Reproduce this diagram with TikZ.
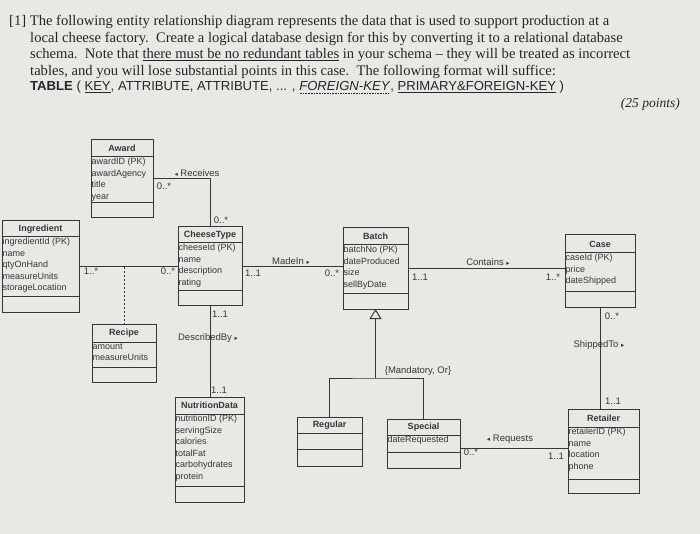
\documentclass[tikz,border=0pt]{standalone}
\usepackage{fontspec}
\setmainfont{Liberation Serif}
\setsansfont{Liberation Sans}
\newfontfamily\symfont{DejaVu Sans}
\usetikzlibrary{arrows.meta,positioning}

\definecolor{paper}{RGB}{232,232,229}
\definecolor{ink}{RGB}{55,55,55}

\newcommand{\roleleft}{{\symfont\fontsize{6.5}{6.5}\selectfont ◂}}
\newcommand{\roleright}{{\symfont\fontsize{6.5}{6.5}\selectfont ▸}}
\newcommand{\dotunder}[1]{\setbox0=\hbox{#1}\leavevmode\rlap{\lower2.5pt\hbox to\wd0{\leaders\hbox to 1.6pt{\hss\vrule width 0.7pt height 0.7pt\hss}\hfill}}\box0}

% class box: name, left, top, width, title h, attr h, bottom h, title, attributes
\newcommand{\umlclass}[9]{%
  \pgfmathsetmacro{\classh}{#5+#6+#7}%
  \pgfmathsetmacro{\classy}{#5+#6}%
  \node[classbox, minimum width=#4pt, minimum height=\classh pt, anchor=north west] (#1) at (#2,#3) {};
  \draw[ink, line width=1pt] ([yshift=-#5pt]#1.north west) -- ([yshift=-#5pt]#1.north east);
  \draw[ink, line width=1pt] ([yshift=-\classy pt]#1.north west) -- ([yshift=-\classy pt]#1.north east);
  \node[classtitle, minimum height=#5pt, anchor=north] (#1-title) at (#1.north) {#8};
  \node[classattr, anchor=north west] (#1-attrs) at ([yshift=-#5pt]#1.north west) {#9};
}

\begin{document}
\begin{tikzpicture}[x=1pt, y=-1pt,
    classbox/.style={draw=ink, line width=1pt, rectangle, inner sep=0pt, outer sep=0pt},
    classtitle/.style={inner sep=0pt, text=ink, font=\sffamily\bfseries\fontsize{9}{10}\selectfont},
    classattr/.style={inner xsep=0.5pt, inner ysep=1pt, align=left, text=ink, font=\sffamily\fontsize{9}{11.5}\selectfont},
    link/.style={draw=ink, line width=1pt},
    assoc/.style={draw=ink, line width=1pt, dash pattern=on 2pt off 2pt},
    mult/.style={inner sep=0pt, text=ink, font=\sffamily\fontsize{9.5}{10}\selectfont},
    role/.style={inner sep=0pt, text=ink, font=\sffamily\fontsize{9.5}{10}\selectfont},
    question/.style={anchor=west, inner sep=0pt, text=black!85, font=\fontsize{14.6}{16}\selectfont}]

    % Page
    \fill[paper] (0,0) rectangle (700,534);
    \useasboundingbox (0,0) rectangle (700,534);

    % Question text
    \node[question] (q1) at (9,22) {[1] The following entity relationship diagram represents the data that is used to support production at a};
    \node[question] (q2) at (30,38.5) {local cheese factory.\ \ Create a logical database design for this by converting it to a relational database};
    \node[question] (q3) at (30,55) {schema.\ \ Note that \underline{there must be no redundant tables} in your schema -- they will be treated as incorrect};
    \node[question] (q4) at (30,71.5) {tables, and you will lose substantial points in this case.\ \ The following format will suffice:};
    \node[question, font=\sffamily\fontsize{13.1}{15}\selectfont] (q5) at (30,87.5) {\textbf{TABLE} ( \underline{KEY}, ATTRIBUTE, ATTRIBUTE, ... , \dotunder{\textit{FOREIGN-KEY}} , \underline{PRIMARY\&FOREIGN-KEY} )};
    \node[question, anchor=east, font=\itshape\fontsize{13.5}{15}\selectfont] (points) at (680,104) {(25 points)};

    % Classes
    \umlclass{award}{91}{140}{62}{17}{46}{15}{Award}{awardID (PK)\\awardAgency\\title\\year}
    \umlclass{ingr}{2}{221}{77}{16}{59}{16}{Ingredient}{ingredientId (PK)\\name\\qtyOnHand\\measureUnits\\storageLocation}
    \umlclass{cheese}{178}{227}{64}{16}{47}{15}{CheeseType}{cheeseId (PK)\\name\\description\\rating}
    \umlclass{batch}{343}{228}{65}{17}{48}{16}{Batch}{batchNo (PK)\\dateProduced\\size\\sellByDate}
    \umlclass{case}{565}{235}{70}{18}{38}{16}{Case}{caseId (PK)\\price\\dateShipped}
    \umlclass{recipe}{92}{324}{64}{18}{25}{15}{Recipe}{amount\\measureUnits}
    \umlclass{nutri}{175}{397}{69}{17}{72}{16}{NutritionData}{nutritionID (PK)\\servingSize\\calories\\totalFat\\carbohydrates\\protein}
    \umlclass{regular}{297}{417}{65}{16}{16}{17}{Regular}{}
    \umlclass{special}{387}{419}{73}{16}{17}{16}{Special}{dateRequested}
    \umlclass{retailer}{568}{409}{71}{18}{52}{14}{Retailer}{retailerID (PK)\\name\\location\\phone}

    % Associations
    \draw[link] (award.east) -| (cheese.north);
    \draw[link] (ingr.east) -- (ingr.east -| cheese.west);
    \coordinate (recipelink) at (ingr.east -| recipe.north);
    \draw[assoc] (recipelink) -- (recipe.north);
    \draw[link] (cheese.east) -- (cheese.east -| batch.west);
    \draw[link] (batch.east) -- (batch.east -| case.west);
    \draw[link] (cheese.south) -- (cheese.south |- nutri.north);
    \draw[link] (case.south) -- (case.south |- retailer.north);
    \draw[link] ([yshift=-4.5pt]special.east) -- ([yshift=-4.5pt]special.east -| retailer.west);

    % Generalization
    \coordinate (gen) at (batch.south |- 0,378);
    \draw[link] (regular.north) |- (gen) -| (special.north);
    \draw[link, -{Triangle[open, length=10pt, width=12pt]}] (gen) -- (batch.south);

    % Role names
    \node[role] (receives) at (197,173) {\roleleft\ Receives};
    \node[role] (madein) at (291,261) {MadeIn \roleright};
    \node[role] (contains) at (488,262) {Contains \roleright};
    \node[role] (describedby) at (208,338) {DescribedBy \roleright};
    \node[role] (shippedto) at (599,345) {ShippedTo \roleright};
    \node[role] (requests) at (510,439) {\roleleft\ Requests};
    \node[role] (constraint) at (418,371) {\{Mandatory, Or\}};

    % Multiplicities
    \node[mult] (m-award) at (164,186) {0..*};
    \node[mult] (m-cheese-top) at (221,220) {0..*};
    \node[mult] (m-ingr) at (91,271) {1..*};
    \node[mult] (m-cheese-w) at (168,271) {0..*};
    \node[mult] (m-cheese-e) at (253,273) {1..1};
    \node[mult] (m-batch-w) at (332,273) {0..*};
    \node[mult] (m-batch-e) at (420,277) {1..1};
    \node[mult] (m-case-w) at (553,277) {1..*};
    \node[mult] (m-case-s) at (612,316) {0..*};
    \node[mult] (m-retailer-n) at (613,401) {1..1};
    \node[mult] (m-cheese-s) at (220,314) {1..1};
    \node[mult] (m-nutri) at (219,390) {1..1};
    \node[mult] (m-special) at (471,452) {0..*};
    \node[mult] (m-retailer-w) at (556,456) {1..1};
\end{tikzpicture}
\end{document}
